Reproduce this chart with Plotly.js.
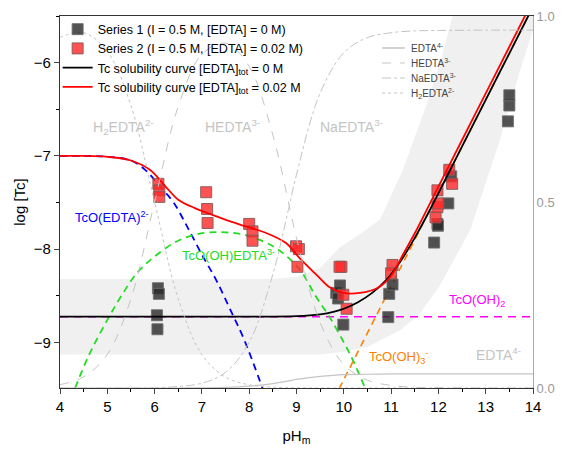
<!DOCTYPE html>
<html>
<head>
<meta charset="utf-8">
<script src="https://cdn.plot.ly/plotly-3.0.1.min.js"></script>
<style>html,body{margin:0;padding:0;background:#fff}#chart{width:568px;height:450px}</style>
</head>
<body>
<div id="chart"></div>
<script>
// ---- measured data (Series 1: I=0.5 M, [EDTA]=0 M) ----
const s1_pH  = [6.07, 6.09, 6.05, 6.06, 9.84, 9.92, 9.88, 9.99, 10.94, 10.96, 11.03, 11.91, 11.98, 11.99, 12.21, 12.27, 13.47, 13.50, 13.50];
const s1_log = [-8.42, -8.48, -8.71, -8.86, -8.47, -8.39, -8.53, -8.81, -8.73, -8.48, -8.38, -7.93, -7.73, -7.75, -7.51, -7.22, -6.63, -6.46, -6.35];
// ---- measured data (Series 2: I=0.5 M, [EDTA]=0.02 M) ----
const s2_pH  = [6.08, 6.10, 6.10, 7.09, 7.11, 7.12, 8.00, 8.07, 8.07, 8.99, 9.05, 9.02, 9.95, 9.91, 9.99, 10.06, 11.03, 11.00, 11.94, 11.98, 12.00, 11.98, 12.23, 12.29];
const s2_log = [-7.30, -7.37, -7.44, -7.39, -7.57, -7.72, -7.73, -7.81, -7.91, -7.97, -8.00, -8.19, -8.19, -8.19, -8.49, -8.64, -8.17, -8.26, -7.66, -7.55, -7.51, -7.37, -7.15, -7.30];

// ---- solubility curves ----
const c0_pH  = [4, 6, 8, 9.0, 9.5, 9.8, 10.0, 10.3, 10.6, 10.9, 11.2, 11.5, 11.8, 12.2, 12.6, 13.0, 13.5, 13.95];
const c0_log = [-8.725, -8.725, -8.725, -8.72, -8.70, -8.67, -8.64, -8.57, -8.47, -8.33, -8.13, -7.88, -7.60, -7.20, -6.80, -6.40, -5.90, -5.45];
const c2_pH  = [4, 4.5, 5.0, 5.5, 5.9, 6.25, 6.5, 6.85, 7.1, 7.52, 7.95, 8.37, 8.79, 9.07, 9.43, 9.7, 9.99, 10.34, 10.7, 10.98, 11.26, 11.5, 12.0, 12.5, 13.0, 13.5, 13.95];
const c2_log = [-7.0, -7.0, -7.01, -7.05, -7.15, -7.34, -7.47, -7.56, -7.61, -7.69, -7.76, -7.83, -7.94, -8.10, -8.28, -8.41, -8.47, -8.47, -8.42, -8.30, -8.05, -7.83, -7.33, -6.83, -6.33, -5.83, -5.38];

// ---- species contributions ----
const blue_pH  = [4, 4.5, 5.0, 5.5, 5.8, 6.1, 6.4, 6.7, 7.0, 7.3, 7.6, 7.9, 8.3];
const blue_log = [-7.0, -7.0, -7.01, -7.05, -7.15, -7.32, -7.5, -7.77, -8.06, -8.33, -8.65, -8.98, -9.52];
const green_pH  = [4.32, 4.6, 5.0, 5.3, 5.62, 6.0, 6.5, 7.0, 7.5, 8.0, 8.5, 8.8, 9.1, 9.4, 9.7, 10.0, 10.2, 10.45];
const green_log = [-9.49, -9.15, -8.76, -8.5, -8.26, -8.08, -7.91, -7.83, -7.82, -7.86, -7.97, -8.08, -8.24, -8.5, -8.73, -9.0, -9.2, -9.49];
const tcoh2_pH  = [4, 14];
const tcoh2_log = [-8.725, -8.725];
const tcoh3_pH  = [9.9, 14.0];
const tcoh3_log = [-9.5, -5.4];

// ---- uncertainty band ----
const bandUp_pH  = [4, 8.5, 9.0, 9.5, 9.92, 10.4, 10.77, 11.25, 11.75, 12.05, 12.3, 14];
const bandUp_log = [-8.32, -8.32, -8.30, -8.2, -7.98, -7.82, -7.68, -7.15, -6.45, -5.98, -5.5, -5.5];
const bandLo_pH  = [14, 13.73, 13.3, 12.67, 12.03, 11.6, 11.19, 10.5, 10.0, 9.5, 4];
const bandLo_log = [-5.65, -6.08, -6.83, -7.8, -8.39, -8.7, -8.87, -9.05, -9.1, -9.13, -9.13];

// ---- EDTA speciation (fraction, right axis) ----
const sp_pH     = [4, 4.5, 5, 5.5, 6, 6.5, 7, 7.5, 8, 8.5, 8.83, 9, 9.5, 10, 10.5, 11, 11.5, 12, 13, 14];
const f_EDTA4   = [0, 0, 0, 0, 0, 0, 0.0005, 0.0016, 0.005, 0.012, 0.019, 0.023, 0.031, 0.036, 0.037, 0.038, 0.038, 0.038, 0.038, 0.038];
const f_HEDTA3  = [0.009, 0.03, 0.09, 0.24, 0.50, 0.757, 0.897, 0.927, 0.864, 0.68, 0.5, 0.403, 0.176, 0.063, 0.021, 0.007, 0.002, 0.001, 0, 0];
const f_NaEDTA3 = [0, 0, 0, 0, 0.0005, 0.004, 0.013, 0.042, 0.123, 0.306, 0.48, 0.574, 0.793, 0.901, 0.942, 0.955, 0.96, 0.961, 0.962, 0.962];
const f_H2EDTA2 = [0.943, 0.955, 0.905, 0.759, 0.5, 0.24, 0.09, 0.029, 0.0086, 0.0022, 0.001, 0.0005, 0, 0, 0, 0, 0, 0, 0, 0];
const sp_names  = ['EDTA<sup>4-</sup>', 'HEDTA<sup>3-</sup>', 'NaEDTA<sup>3-</sup>', 'H<sub>2</sub>EDTA<sup>2-</sup>'];
const sp_dash   = ['solid', 'dash', 'dashdot', 'dot'];

const FONT = 'Liberation Sans, Arial, sans-serif';
const GRAY = '#c4c4c4';

const spFrac = [f_EDTA4, f_HEDTA3, f_NaEDTA3, f_H2EDTA2];

const traces = [
  {x: bandUp_pH.concat(bandLo_pH), y: bandUp_log.concat(bandLo_log), mode: 'lines', fill: 'toself',
   fillcolor: '#f0f0f0', line: {width: 0, color: 'rgba(0,0,0,0)'}, showlegend: false, hoverinfo: 'skip'}
];
spFrac.forEach((f, i) => traces.push({x: sp_pH, y: f, yaxis: 'y2', mode: 'lines', name: sp_names[i], showlegend: false,
  line: {color: GRAY, width: i === 0 ? 1.2 : 1, dash: sp_dash[i], shape: 'spline'}}));
traces.push(
  {x: tcoh2_pH, y: tcoh2_log, mode: 'lines', showlegend: false, line: {color: '#ff00ff', width: 1.6, dash: '8px,6px'}},
  {x: tcoh3_pH, y: tcoh3_log, mode: 'lines', showlegend: false, line: {color: '#ff8000', width: 1.6, dash: '7px,5px'}},
  {x: blue_pH, y: blue_log, mode: 'lines', showlegend: false, line: {color: '#0000ff', width: 1.8, dash: '7px,5px', shape: 'spline'}},
  {x: green_pH, y: green_log, mode: 'lines', showlegend: false, line: {color: '#22dd22', width: 1.8, dash: '7px,5px', shape: 'spline'}},
  {x: s1_pH, y: s1_log, mode: 'markers', name: 'Series 1 (I = 0.5 M, [EDTA] = 0 M)',
   marker: {symbol: 'square', size: 11, color: 'rgba(40,40,40,0.8)', line: {color: 'rgba(110,110,110,0.9)', width: 1}}},
  {x: s2_pH, y: s2_log, mode: 'markers', name: 'Series 2 (I = 0.5 M, [EDTA] = 0.02 M)',
   marker: {symbol: 'square', size: 11, color: 'rgba(255,40,40,0.8)', line: {color: 'rgba(130,90,90,0.9)', width: 1}}},
  {x: c0_pH, y: c0_log, mode: 'lines', name: 'Tc solubility curve [EDTA]<sub>tot</sub> = 0 M',
   line: {color: '#000000', width: 1.8, shape: 'spline'}},
  {x: c2_pH, y: c2_log, mode: 'lines', name: 'Tc solubility curve [EDTA]<sub>tot</sub> = 0.02 M',
   line: {color: '#ff0000', width: 1.8, shape: 'spline'}}
);

function ann(x, y, text, color, size) {
  return {x: x, y: y, xref: 'x', yref: 'y', text: text, showarrow: false,
          font: {family: FONT, size: size || 13, color: color}};
}

// manual species legend (top right)
const lgX0 = 0.681, lgX1 = 0.729, lgTx = 0.738;
const lgY = [0.914, 0.8737, 0.8333, 0.793];
const shapes = [], anns = [];
sp_names.forEach((n, i) => {
  shapes.push({type: 'line', xref: 'paper', yref: 'paper', x0: lgX0, x1: lgX1, y0: lgY[i], y1: lgY[i],
               line: {color: GRAY, width: i === 0 ? 1.5 : 1, dash: sp_dash[i]}});
  anns.push({xref: 'paper', yref: 'paper', x: lgTx, y: lgY[i], xanchor: 'left', yanchor: 'middle', showarrow: false,
             text: n, font: {family: FONT, size: 10, color: '#444'}});
});

const layout = {
  width: 568, height: 450,
  margin: {l: 60, r: 35, t: 16, b: 62},
  paper_bgcolor: '#ffffff', plot_bgcolor: '#ffffff',
  font: {family: FONT, size: 14, color: '#000'},
  xaxis: {range: [4, 14], tickvals: [4,5,6,7,8,9,10,11,12,13,14], ticks: 'outside', ticklen: 5,
          minor: {dtick: 0.5, tick0: 4, ticks: 'outside', ticklen: 3, tickcolor: '#000'},
          showline: true, linecolor: '#333', linewidth: 1.2, mirror: true, showgrid: false, zeroline: false,
          tickfont: {size: 15, family: FONT},
          title: {text: 'pH<sub>m</sub>', font: {size: 15, family: FONT}, standoff: 16}},
  yaxis: {range: [-9.49, -5.5], tickvals: [-9, -8, -7, -6], ticks: 'outside', ticklen: 5,
          minor: {dtick: 0.5, tick0: -9, ticks: 'outside', ticklen: 3, tickcolor: '#000'},
          showline: true, linecolor: '#333', linewidth: 1.2, showgrid: false, zeroline: false,
          tickfont: {size: 15, family: FONT},
          title: {text: 'log [Tc]', font: {size: 15, family: FONT}, standoff: 4}},
  yaxis2: {range: [0, 1], overlaying: 'y', side: 'right', tickvals: [0, 0.5, 1], ticktext: ['0.0', '0.5', '1.0'],
           showline: true, linecolor: '#aaaaaa', linewidth: 1, showgrid: false, zeroline: false, ticks: '',
           tickfont: {size: 13, color: '#999999', family: FONT}},
  legend: {x: -0.005, y: 1.004, xanchor: 'left', yanchor: 'top', bgcolor: 'rgba(0,0,0,0)',
           font: {size: 12.5, family: FONT}, tracegroupgap: 0, itemwidth: 30},
  shapes: shapes,
  annotations: [
    ann(5.35, -6.69, 'H<sub>2</sub>EDTA<sup>2-</sup>', GRAY, 14),
    ann(7.64, -6.68, 'HEDTA<sup>3-</sup>', GRAY, 14),
    ann(10.17, -6.68, 'NaEDTA<sup>3-</sup>', GRAY, 14),
    ann(5.10, -7.66, 'TcO(EDTA)<sup>2-</sup>', '#0000ff', 13),
    ann(7.57, -8.06, 'TcO(OH)EDTA<sup>3-</sup>', '#22dd22', 13),
    ann(12.82, -8.55, 'TcO(OH)<sub>2</sub>', '#ff00ff', 13),
    ann(11.15, -9.16, 'TcO(OH)<sub>3</sub><sup>-</sup>', '#ff8000', 13),
    ann(13.26, -9.13, 'EDTA<sup>4-</sup>', GRAY, 14)
  ].concat(anns),
  showlegend: true
};

Plotly.newPlot('chart', traces, layout, {displayModeBar: false, staticPlot: true});
</script>
</body>
</html>
